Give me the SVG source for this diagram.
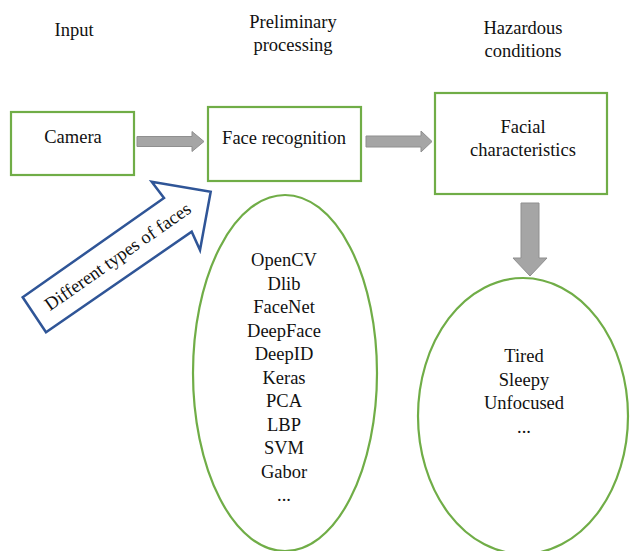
<svg xmlns="http://www.w3.org/2000/svg" width="630" height="551" viewBox="0 0 630 551" font-family="'Liberation Serif', 'DejaVu Serif', serif">
<style>
text{font-family:'Liberation Serif', 'DejaVu Serif', serif;font-size:18.5px;fill:#111;text-anchor:middle}
.box{fill:#fff;stroke:#70AD47;stroke-width:2.2}
.gray{fill:#A5A5A5;stroke:#8F8F8F;stroke-width:1}
.blue{fill:#fff;stroke:#2F5597;stroke-width:2.5;stroke-linejoin:miter}
</style>
<rect width="630" height="551" fill="#fff"/>
<g id="headers">
<text x="74" y="36">Input</text>
<text x="293" y="28">Preliminary</text>
<text x="293" y="51">processing</text>
<text x="523" y="34">Hazardous</text>
<text x="523" y="57">conditions</text>
</g>
<g id="camera">
<rect class="box" x="11" y="112" width="123" height="63"/>
<text x="73" y="143">Camera</text>
</g>
<g id="face-recognition">
<rect class="box" x="208" y="107" width="153" height="74"/>
<text x="284" y="144">Face recognition</text>
</g>
<g id="facial-characteristics">
<rect class="box" x="435" y="93" width="172" height="101"/>
<text x="523" y="133">Facial</text>
<text x="523" y="156">characteristics</text>
</g>
<g id="methods">
<ellipse class="box" cx="285" cy="373" rx="92" ry="178"/>
<text x="284" y="266">OpenCV</text>
<text x="284" y="289.5">Dlib</text>
<text x="284" y="313">FaceNet</text>
<text x="284" y="336.5">DeepFace</text>
<text x="284" y="360">DeepID</text>
<text x="284" y="383.5">Keras</text>
<text x="284" y="407">PCA</text>
<text x="284" y="430.5">LBP</text>
<text x="284" y="454">SVM</text>
<text x="284" y="477.5">Gabor</text>
<text x="284" y="501">...</text>
</g>
<g id="conditions">
<ellipse class="box" cx="523" cy="416" rx="105" ry="138"/>
<text x="524" y="362">Tired</text>
<text x="524" y="385.5">Sleepy</text>
<text x="524" y="409">Unfocused</text>
<text x="524" y="432.5">...</text>
</g>
<g id="connectors">
<polygon class="gray" points="137,136.5 192,136.5 192,131.5 204,141.5 192,151.5 192,146.5 137,146.5"/>
<polygon class="gray" points="366,136 421,136 421,131 432,141.5 421,152 421,147 366,147"/>
<polygon class="gray" points="521,203 539,203 539,258 547,258 530,276 513,258 521,258"/>
</g>
<g id="input-arrow">
<polygon class="blue" points="22.7,297.3 164,198 151.7,181.7 210.7,191.7 200,250 191.7,231.7 46,332.3"/>
<text transform="translate(118,257) rotate(-35)" x="0" y="5.5">Different types of faces</text>
</g>
</svg>
